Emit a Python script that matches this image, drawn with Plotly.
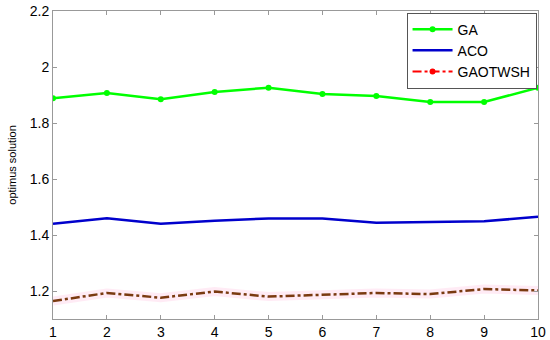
import plotly.graph_objects as go

x = [1, 2, 3, 4, 5, 6, 7, 8, 9, 10]
ga = [1.888, 1.907, 1.885, 1.911, 1.926, 1.904, 1.896, 1.875, 1.875, 1.926]
aco = [1.440, 1.460, 1.440, 1.451, 1.459, 1.459, 1.444, 1.446, 1.449, 1.465]
gaotwsh = [1.164, 1.193, 1.176, 1.198, 1.180, 1.186, 1.193, 1.189, 1.207, 1.202]
ytick_vals = [1.2, 1.4, 1.6, 1.8, 2.0, 2.2]
ytick_text = ["1.2", "1.4", "1.6", "1.8", "2", "2.2"]

fig = go.Figure()
fig.add_trace(go.Scatter(x=x, y=ga, name="GA", mode="lines+markers",
                         line=dict(color="#00ff00", width=2.5),
                         marker=dict(color="#00ff00", size=6)))
fig.add_trace(go.Scatter(x=x, y=aco, name="ACO", mode="lines",
                         line=dict(color="#0000cc", width=2.5)))
fig.add_trace(go.Scatter(x=x, y=gaotwsh, showlegend=False, mode="lines",
                         line=dict(color="rgba(255,215,235,0.5)", width=9),
                         hoverinfo="skip"))
fig.add_trace(go.Scatter(x=x, y=gaotwsh, showlegend=False, mode="lines",
                         line=dict(color="#7a3a10", width=2.5, dash="dashdot")))
fig.add_trace(go.Scatter(x=[None], y=[None], name="GAOTWSH", mode="lines+markers",
                         line=dict(color="#ff0000", width=2, dash="dashdot"),
                         marker=dict(color="#ff0000", size=6)))

axis_common = dict(showline=True, linecolor="#999999", linewidth=1, mirror="ticks",
                   ticks="inside", tickcolor="#999999", ticklen=4, showgrid=False,
                   zeroline=False, automargin=False,
                   tickfont=dict(family="Liberation Sans, Arial", size=14, color="black"))
fig.update_xaxes(range=[1, 10], tickvals=x, **axis_common)
fig.update_yaxes(range=[1.1, 2.2], tickvals=ytick_vals, ticktext=ytick_text,
                 title=dict(text="optimus solution", font=dict(family="Liberation Sans, Arial", size=11, color="black"),
                            standoff=10),
                 **axis_common)
fig.update_layout(width=550, height=340, margin=dict(l=53, r=12, t=11, b=21),
                  plot_bgcolor="white", paper_bgcolor="white",
                  font=dict(family="Liberation Sans, Arial", color="black"),
                  legend=dict(x=0.997, y=0.995, xanchor="right", yanchor="top",
                              bgcolor="white", bordercolor="#555555", borderwidth=1,
                              font=dict(size=14), tracegroupgap=0, itemwidth=40))
fig.write_html("out.html", config={"displayModeBar": False},
               post_script="document.body.style.margin='0';document.body.style.padding='0';")
